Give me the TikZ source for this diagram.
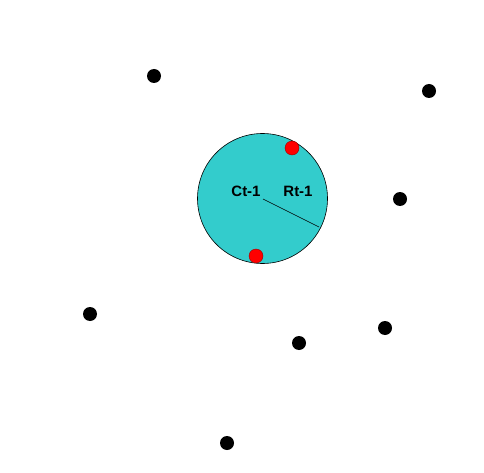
\documentclass[tikz,border=0pt]{standalone}
\usepackage{fontspec}
\setmainfont{Liberation Sans}
\definecolor{teal1}{RGB}{51,204,204}
\begin{document}
\begin{tikzpicture}[x=1pt,y=-1pt,
  blackdot/.style={circle,fill=black,minimum size=14pt,inner sep=0pt},
  reddot/.style={circle,fill=red,draw=red!60!black,line width=0.4pt,minimum size=14pt,inner sep=0pt},
  lbl/.style={font=\bfseries\fontsize{15}{17}\selectfont,inner sep=0pt}]
\useasboundingbox (0,0) rectangle (484,473);
\node[circle,draw=black,line width=0.6pt,fill=teal1,minimum size=130pt,inner sep=0pt] (big) at (262.5,198.5) {};
\coordinate (ctr) at (263,199);
\coordinate (rim) at (319,227);
\draw[line width=0.6pt] (ctr) -- (rim);
\node[lbl] (ct) at (246,191) {Ct-1};
\node[lbl] (rt) at (298,191) {Rt-1};
\node[reddot] (r1) at (292,148) {};
\node[reddot] (r2) at (256,256) {};
\node[blackdot] (b1) at (154,76) {};
\node[blackdot] (b2) at (429,91) {};
\node[blackdot] (b3) at (400,199) {};
\node[blackdot] (b4) at (90,314) {};
\node[blackdot] (b5) at (385,328) {};
\node[blackdot] (b6) at (299,343) {};
\node[blackdot] (b7) at (227,443) {};
\end{tikzpicture}
\end{document}
